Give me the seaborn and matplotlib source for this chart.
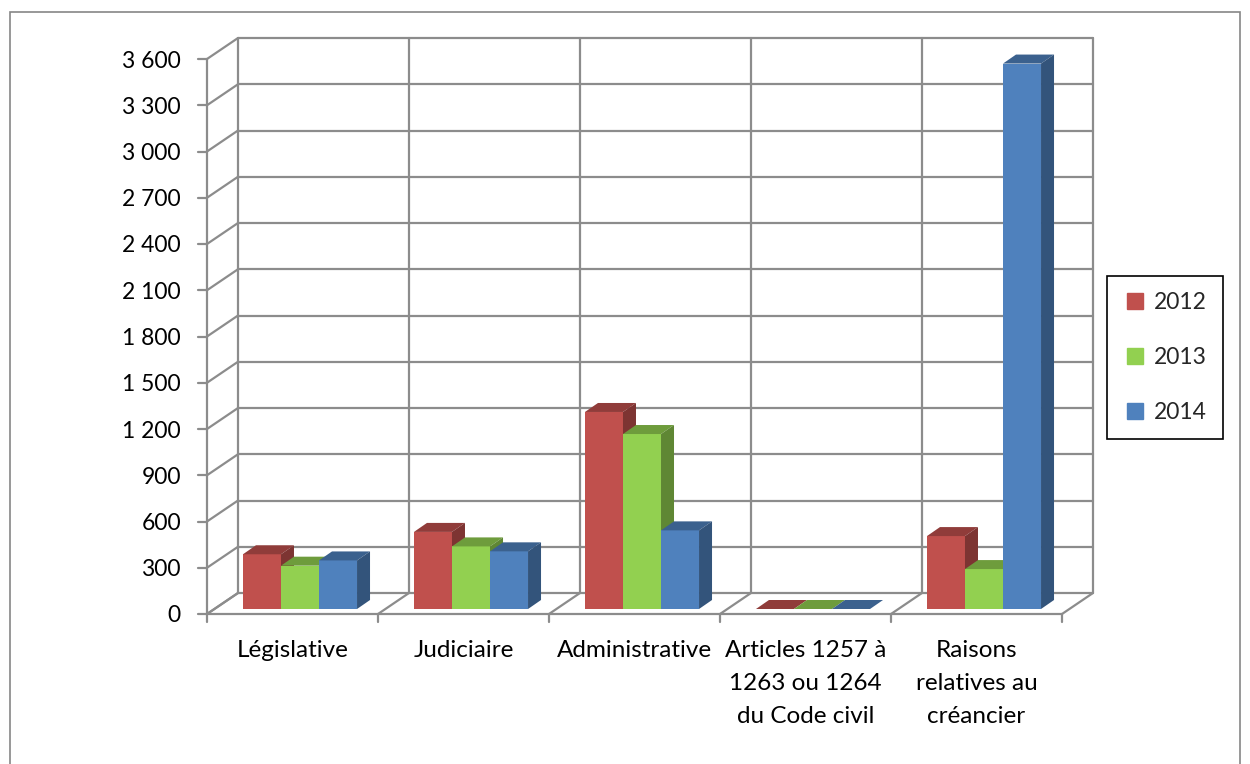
import matplotlib

matplotlib.use("Agg")

import matplotlib.pyplot as plt
from matplotlib.lines import Line2D
from matplotlib.patches import Polygon, Rectangle
import numpy as np
import pandas as pd
import seaborn as sns

categories = [
    "Législative",
    "Judiciaire",
    "Administrative",
    "Articles 1257 à\n1263 ou 1264\ndu Code civil",
    "Raisons\nrelatives au\ncréancier",
]
years = ["2012", "2013", "2014"]
values_2012 = [355, 500, 1278, 0, 473]
values_2013 = [281, 406, 1135, 0, 259]
values_2014 = [315, 374, 510, 0, 3538]
y_ticks = list(range(0, 3601, 300))
colors = ["#C0504D", "#92D050", "#4F81BD"]

GRID = "#8C8C8C"
W, H = 1250, 764

df = pd.DataFrame(
    {
        "category": categories * 3,
        "year": [y for y in years for _ in categories],
        "value": values_2012 + values_2013 + values_2014,
    }
)

sns.set_theme(style="white")
plt.rcParams["font.family"] = ["Lato", "DejaVu Sans"]

fig = plt.figure(figsize=(W / 100, H / 100), dpi=100)
# bar plane (mid depth) in pixels: x -0.5..4.5 -> 214.5..1069.5, y 0..3600 -> 609..54
ax = fig.add_axes([214.5 / W, (H - 609) / H, 855 / W, 555 / H])

sns.barplot(
    data=df,
    x="category",
    y="value",
    hue="year",
    palette=colors,
    saturation=1,
    width=0.667,
    linewidth=0,
    legend=False,
    ax=ax,
)
ax.set_xlim(-0.5, 4.5)
ax.set_ylim(0, 3600)
ax.set_axis_off()

# pixel -> data conversions
sx = 5 / 855.0
sy = 3600 / 555.0


def px(dx, dy):
    return dx * sx, dy * sy


fdx, fdy = px(-7.5, -5)   # front floor edge / front axis
bdx, bdy = px(23.5, 16)   # back wall
ddx, ddy = px(13, 9)      # bar depth
lw = 1.6
n = len(categories)
edges = np.arange(n + 1) - 0.5

# back wall
for v in y_ticks:
    ax.plot([edges[0] + bdx, edges[-1] + bdx], [v + bdy, v + bdy],
            color=GRID, lw=lw, clip_on=False, zorder=1)
for e in edges:
    ax.plot([e + bdx, e + bdx], [bdy, y_ticks[-1] + bdy],
            color=GRID, lw=lw, clip_on=False, zorder=1)
# left side wall
for v in y_ticks:
    ax.plot([edges[0] + fdx, edges[0] + bdx], [v + fdy, v + bdy],
            color=GRID, lw=lw, clip_on=False, zorder=1)
# floor
for e in edges:
    ax.plot([e + fdx, e + bdx], [fdy, bdy], color=GRID, lw=lw, clip_on=False, zorder=1)
ax.plot([edges[0] + fdx, edges[-1] + fdx], [fdy, fdy], color=GRID, lw=lw,
        clip_on=False, zorder=2)
# front value axis
ax.plot([edges[0] + fdx, edges[0] + fdx], [fdy, y_ticks[-1] + fdy], color=GRID,
        lw=lw, clip_on=False, zorder=2)
tx, _ = px(-9, 0)
lx, ly = px(-26, -2)
for v in y_ticks:
    ax.plot([edges[0] + fdx + tx, edges[0] + fdx], [v + fdy, v + fdy], color=GRID,
            lw=lw, clip_on=False, zorder=2)
    ax.text(edges[0] + fdx + lx, v + fdy + ly, f"{v:,}".replace(",", " "),
            ha="right", va="center", fontsize=16.5, color="black")
_, ty = px(0, -8)
for e in edges:
    ax.plot([e + fdx, e + fdx], [fdy, fdy + ty], color=GRID, lw=lw, clip_on=False, zorder=2)
_, lab_y = px(0, -26)
for i, cat in enumerate(categories):
    ax.text(i + fdx, fdy + lab_y, cat, ha="center", va="top", fontsize=17.5,
            linespacing=1.72, color="black")

# 3D faces of bars, drawn left to right
bars = sorted(ax.patches, key=lambda p: p.get_x())
for k, p in enumerate(bars):
    x0, w, h = p.get_x(), p.get_width(), p.get_height()
    base = np.array(matplotlib.colors.to_rgb(p.get_facecolor()))
    p.set_zorder(10 + 3 * k)
    p.set_clip_on(False)
    top = Polygon([(x0, h), (x0 + w, h), (x0 + w + ddx, h + ddy), (x0 + ddx, h + ddy)],
                  closed=True, facecolor=base * 0.75, edgecolor="none",
                  zorder=11 + 3 * k, clip_on=False)
    side = Polygon([(x0 + w, 0), (x0 + w + ddx, ddy), (x0 + w + ddx, h + ddy), (x0 + w, h)],
                   closed=True, facecolor=base * 0.65, edgecolor="none",
                   zorder=12 + 3 * k, clip_on=False)
    ax.add_patch(top)
    ax.add_patch(side)

# legend
handles = [Line2D([], [], marker="s", linestyle="", markersize=11, color=c) for c in colors]
leg = fig.legend(
    handles,
    years,
    loc="upper left",
    bbox_to_anchor=(1107 / W, 1 - 276 / H),
    borderaxespad=0,
    frameon=True,
    fancybox=False,
    framealpha=1,
    edgecolor="black",
    fontsize=16.5,
    labelspacing=1.48,
    borderpad=0.7,
    handlelength=1.0,
    handletextpad=0.35,
)
leg.get_frame().set_linewidth(1.2)

# chart area border
fig.add_artist(Rectangle((10 / W, -0.1), (1240 - 10) / W, 1.1 - 12 / H,
                         transform=fig.transFigure, fill=False, edgecolor="#868686",
                         lw=1.2, clip_on=False))

fig.savefig("out.png", dpi=100)
